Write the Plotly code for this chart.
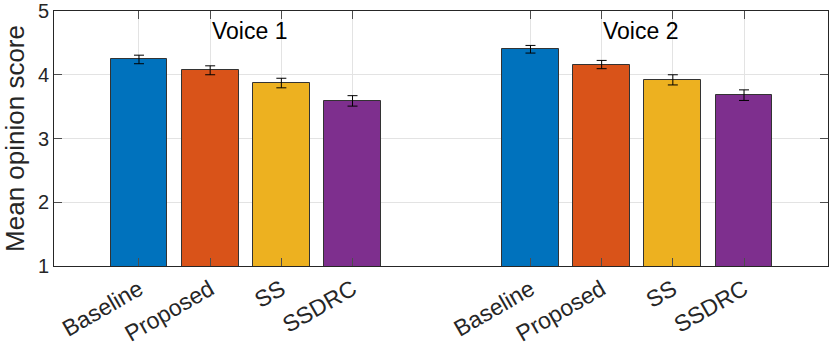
import plotly.graph_objects as go

methods = ["Baseline", "Proposed", "SS", "SSDRC"]
groups = ["Voice 1", "Voice 2"]
# x positions of bars (per method, one per group)
group_offsets = [1.0, 6.5]
voice1_mos = [4.24, 4.07, 3.87, 3.59]
voice2_mos = [4.40, 4.16, 3.92, 3.68]
voice1_err = [0.067, 0.07, 0.075, 0.082]
voice2_err = [0.06, 0.065, 0.08, 0.083]

colors = ["#0072BD", "#D95319", "#EDB120", "#7E2F8E"]
font_family = "Liberation Sans, Arial, sans-serif"

fig = go.Figure()
for i, name in enumerate(methods):
    xs = [g + i for g in group_offsets]
    fig.add_trace(
        go.Bar(
            x=xs,
            y=[voice1_mos[i], voice2_mos[i]],
            width=0.8,
            name=name,
            marker=dict(color=colors[i], line=dict(color="#333333", width=1)),
            error_y=dict(
                type="data",
                array=[voice1_err[i], voice2_err[i]],
                color="black",
                thickness=1,
                width=5,
            ),
            showlegend=False,
        )
    )

tickvals = [g + i for g in group_offsets for i in range(len(methods))]
ticktext = methods * len(groups)

for j, label in enumerate(groups):
    fig.add_annotation(
        x=group_offsets[j] + 1.55,
        y=4.69,
        text=label,
        showarrow=False,
        font=dict(size=23, color="black", family=font_family),
    )

axis_common = dict(
    showline=True,
    linecolor="#262626",
    linewidth=1,
    mirror="allticks",
    ticks="inside",
    ticklen=8,
    tickcolor="#4d4d4d",
    showgrid=True,
    gridcolor="#e3e3e3",
    gridwidth=1,
    zeroline=False,
    layer="above traces",
    automargin=False,
    ticklabeloverflow="allow",
)

fig.update_xaxes(
    range=[-0.194, 10.68],
    tickmode="array",
    tickvals=tickvals,
    ticktext=ticktext,
    tickangle=-30,
    tickfont=dict(size=23, color="#262626", family=font_family),
    **axis_common,
)
fig.update_yaxes(
    range=[1, 5],
    tickvals=[1, 2, 3, 4, 5],
    tickfont=dict(size=20, color="#262626", family=font_family),
    title=dict(text="Mean opinion score", font=dict(size=26, color="#262626", family=font_family), standoff=11),
    **axis_common,
)

fig.update_layout(
    width=830,
    height=349,
    margin=dict(l=54, r=2, t=11, b=83),
    plot_bgcolor="#fff",
    paper_bgcolor="#fff",
    bargap=0,
    barmode="overlay",
    font=dict(family=font_family),
)

# drop the default page margin so the figure sits at the window's corner
fig.write_html(
    "out.html",
    config={"displayModeBar": False},
    post_script="document.body.style.margin='0';",
)
